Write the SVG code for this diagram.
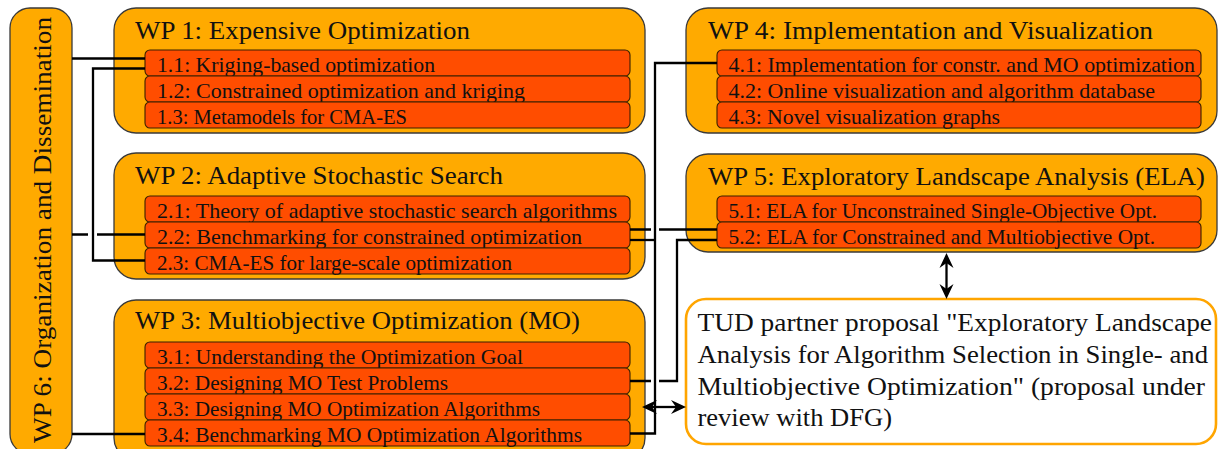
<svg xmlns="http://www.w3.org/2000/svg" width="1219" height="449" viewBox="0 0 1219 449">
<style>
.wp{fill:#FFAA00;stroke:#3a3a3a;stroke-width:1.3}
.sub{fill:#FF4D00;stroke:#3a2000;stroke-width:1.1}
.tud{fill:#FFFFFF;stroke:#FFA500;stroke-width:2.6}
text{font-family:"Liberation Serif","Times New Roman",serif;fill:#111111}
.t{font-size:24.5px}
.s{font-size:21px}
.p{font-size:26px}
.c{fill:none;stroke:#000000;stroke-width:2.3}
</style>
<defs>
<marker id="ah" viewBox="-16 -8 17 16" refX="-9" refY="0" markerWidth="17" markerHeight="16" markerUnits="userSpaceOnUse" orient="auto-start-reverse">
<path d="M0,0 L-15,-7 L-10,0 L-15,7 Z" fill="#000000"/>
</marker>
</defs>

<g id="wp6">
<rect class="wp" x="10" y="8" width="62" height="446" rx="20"/>
<text class="t" transform="translate(51,443) rotate(-90)" textLength="426" lengthAdjust="spacingAndGlyphs">WP 6: Organization and Dissemination</text>
</g>

<g id="wp1">
<rect class="wp" x="114" y="8" width="531" height="125" rx="22"/>
<text class="t" x="135" y="39" textLength="335" lengthAdjust="spacingAndGlyphs">WP 1: Expensive Optimization</text>
<g id="wp1-1"><rect class="sub" x="145" y="50" width="485" height="26" rx="5"/><text class="s" x="157" y="71.5" textLength="278" lengthAdjust="spacingAndGlyphs">1.1: Kriging-based optimization</text></g>
<g id="wp1-2"><rect class="sub" x="145" y="76" width="485" height="26" rx="5"/><text class="s" x="157" y="97.5" textLength="368" lengthAdjust="spacingAndGlyphs">1.2: Constrained optimization and kriging</text></g>
<g id="wp1-3"><rect class="sub" x="145" y="102" width="485" height="26" rx="5"/><text class="s" x="157" y="123.5" textLength="250" lengthAdjust="spacingAndGlyphs">1.3: Metamodels for CMA-ES</text></g>
</g>

<g id="wp2">
<rect class="wp" x="114" y="153" width="531" height="126" rx="22"/>
<text class="t" x="135" y="183.5" textLength="368" lengthAdjust="spacingAndGlyphs">WP 2: Adaptive Stochastic Search</text>
<g id="wp2-1"><rect class="sub" x="145" y="196" width="485" height="26" rx="5"/><text class="s" x="157" y="217.5" textLength="460" lengthAdjust="spacingAndGlyphs">2.1: Theory of adaptive stochastic search algorithms</text></g>
<g id="wp2-2"><rect class="sub" x="145" y="222" width="485" height="26" rx="5"/><text class="s" x="157" y="243.5" textLength="425" lengthAdjust="spacingAndGlyphs">2.2: Benchmarking for constrained optimization</text></g>
<g id="wp2-3"><rect class="sub" x="145" y="248" width="485" height="26" rx="5"/><text class="s" x="157" y="269.5" textLength="355" lengthAdjust="spacingAndGlyphs">2.3: CMA-ES for large-scale optimization</text></g>
</g>

<g id="wp3">
<rect class="wp" x="114" y="300" width="531" height="160" rx="22"/>
<text class="t" x="135" y="328.5" textLength="445" lengthAdjust="spacingAndGlyphs">WP 3: Multiobjective Optimization (MO)</text>
<g id="wp3-1"><rect class="sub" x="145" y="342" width="485" height="26" rx="5"/><text class="s" x="157" y="363.5" textLength="366" lengthAdjust="spacingAndGlyphs">3.1: Understanding the Optimization Goal</text></g>
<g id="wp3-2"><rect class="sub" x="145" y="368" width="485" height="26" rx="5"/><text class="s" x="157" y="389.5" textLength="291" lengthAdjust="spacingAndGlyphs">3.2: Designing MO Test Problems</text></g>
<g id="wp3-3"><rect class="sub" x="145" y="394" width="485" height="26" rx="5"/><text class="s" x="157" y="415.5" textLength="383" lengthAdjust="spacingAndGlyphs">3.3: Designing MO Optimization Algorithms</text></g>
<g id="wp3-4"><rect class="sub" x="145" y="420" width="485" height="26" rx="5"/><text class="s" x="157" y="441.5" textLength="425" lengthAdjust="spacingAndGlyphs">3.4: Benchmarking MO Optimization Algorithms</text></g>
</g>

<g id="wp4">
<rect class="wp" x="686" y="8" width="531" height="125" rx="22"/>
<text class="t" x="708" y="39" textLength="445" lengthAdjust="spacingAndGlyphs">WP 4: Implementation and Visualization</text>
<g id="wp4-1"><rect class="sub" x="717" y="50" width="484" height="26" rx="5"/><text class="s" x="728.5" y="71.5" textLength="466.5" lengthAdjust="spacingAndGlyphs">4.1: Implementation for constr. and MO optimization</text></g>
<g id="wp4-2"><rect class="sub" x="717" y="76" width="484" height="26" rx="5"/><text class="s" x="728.5" y="97.5" textLength="426.5" lengthAdjust="spacingAndGlyphs">4.2: Online visualization and algorithm database</text></g>
<g id="wp4-3"><rect class="sub" x="717" y="102" width="484" height="26" rx="5"/><text class="s" x="728.5" y="123.5" textLength="271.5" lengthAdjust="spacingAndGlyphs">4.3: Novel visualization graphs</text></g>
</g>

<g id="wp5">
<rect class="wp" x="686" y="154" width="531" height="98" rx="22"/>
<text class="t" x="708" y="184.5" textLength="497" lengthAdjust="spacingAndGlyphs">WP 5: Exploratory Landscape Analysis (ELA)</text>
<g id="wp5-1"><rect class="sub" x="717" y="196" width="484" height="26" rx="5"/><text class="s" x="728.5" y="217.5" textLength="428.5" lengthAdjust="spacingAndGlyphs">5.1: ELA for Unconstrained Single-Objective Opt.</text></g>
<g id="wp5-2"><rect class="sub" x="717" y="222" width="484" height="26" rx="5"/><text class="s" x="728.5" y="243.5" textLength="426.5" lengthAdjust="spacingAndGlyphs">5.2: ELA for Constrained and Multiobjective Opt.</text></g>
</g>

<g id="tud">
<rect class="tud" x="686" y="299" width="530" height="145" rx="20"/>
<text class="p" x="697.5" y="331" textLength="514.5" lengthAdjust="spacingAndGlyphs">TUD partner proposal "Exploratory Landscape</text>
<text class="p" x="697.5" y="363" textLength="510.5" lengthAdjust="spacingAndGlyphs">Analysis for Algorithm Selection in Single- and</text>
<text class="p" x="697.5" y="394.5" textLength="507.5" lengthAdjust="spacingAndGlyphs">Multiobjective Optimization" (proposal under</text>
<text class="p" x="697.5" y="426" textLength="194.5" lengthAdjust="spacingAndGlyphs">review with DFG)</text>
</g>

<g id="connectors">
<path class="c" d="M72,58.5 H145"/>
<path class="c" d="M145,68.5 H93 V260.5 H145"/>
<path class="c" d="M72,234.5 H88 M97,234.5 H145"/>
<path class="c" d="M72,434 H145"/>
<path class="c" d="M630,229.5 H651 M659,229.5 H717"/>
<path class="c" d="M630,240 H655"/>
<path class="c" d="M717,63 H655 V433.5 H630"/>
<path class="c" d="M630,381 H651 M659,381 H677 V240 H717"/>
<path class="c" d="M651,407 H677" marker-start="url(#ah)" marker-end="url(#ah)"/>
<path class="c" d="M946.5,262 V290" marker-start="url(#ah)" marker-end="url(#ah)"/>
</g>
</svg>
